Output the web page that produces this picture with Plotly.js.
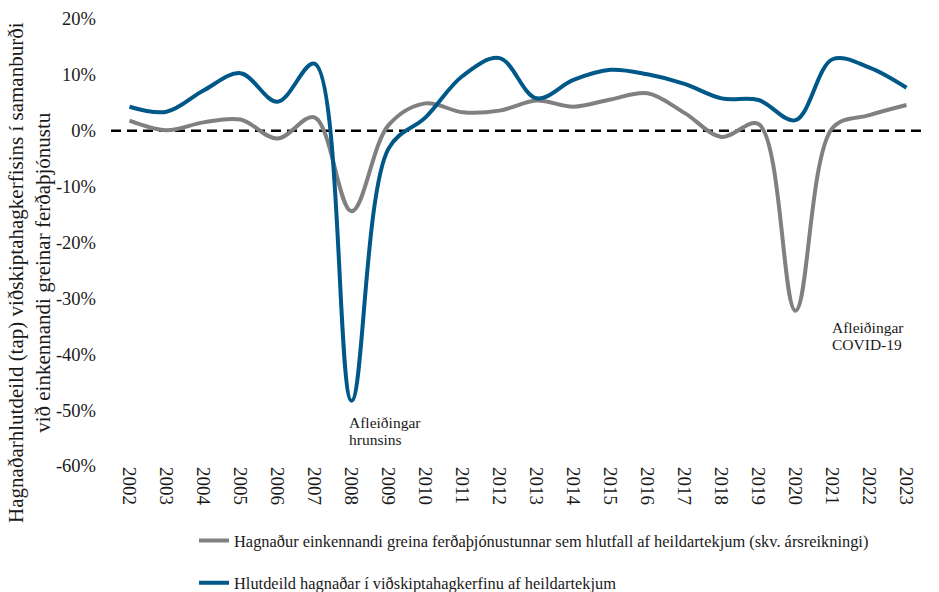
<!DOCTYPE html>
<html>
<head>
<meta charset="utf-8">
<script src="https://cdn.plot.ly/plotly-3.0.1.min.js"></script>
<style>
  body { margin: 0; background: #fff; }
  #chart { width: 939px; height: 592px; }
</style>
</head>
<body>
<div id="chart"></div>
<script>
// years on the category axis
var years = ['2002', '2003', '2004', '2005', '2006', '2007', '2008', '2009', '2010', '2011', '2012',
             '2013', '2014', '2015', '2016', '2017', '2018', '2019', '2020', '2021', '2022', '2023'];

// Hagnaður einkennandi greina ferðaþjónustunnar (%)
var tourismProfit = [1.8, 0.1, 1.5, 2.0, -1.4, 2.4, -14.4, 1.0, 4.9, 3.3, 3.6,
                     5.4, 4.3, 5.6, 6.7, 3.2, -1.1, 1.2, -32.2, 0.5, 2.8, 4.6];

// Hlutdeild hagnaðar í viðskiptahagkerfinu (%)
var economyProfit = [4.3, 3.4, 7.2, 10.3, 5.2, 12.0, -48.3, -3.2, 2.4, 9.8, 13.0,
                     5.8, 9.1, 10.9, 10.1, 8.4, 5.8, 5.5, 1.9, 12.8, 11.3, 7.7];

// y ticks (plain hyphen like the original)
var yTickVals = [20, 10, 0, -10, -20, -30, -40, -50, -60];
var yTickText = ['20%', '10%', '0%', '-10%', '-20%', '-30%', '-40%', '-50%', '-60%'];

var tourismName = 'Hagnaður einkennandi greina ferðaþjónustunnar sem hlutfall af heildartekjum (skv. ársreikningi)';
var economyName = 'Hlutdeild hagnaðar í viðskiptahagkerfinu af heildartekjum';

var serif = 'Liberation Serif, Times New Roman, serif';
var ink = '#1a1a1a';

var gray = {
    x: years,
    y: tourismProfit,
    name: tourismName,
    legendgroup: 'a',
    type: 'scatter',
    mode: 'lines',
    line: {color: '#808080', width: 4, shape: 'spline', smoothing: 1},
    hoverinfo: 'skip'
};

var blue = {
    x: years,
    y: economyProfit,
    name: economyName,
    legendgroup: 'b',
    type: 'scatter',
    mode: 'lines',
    line: {color: '#005888', width: 4, shape: 'spline', smoothing: 1},
    hoverinfo: 'skip'
};

function note(x, y, txt) {
    return {xref: 'x', yref: 'y', x: x, y: y, xanchor: 'left', yanchor: 'middle',
            showarrow: false, borderpad: 0, text: txt,
            font: {family: serif, size: 15.5, color: ink}};
}

var layout = {
    width: 939,
    height: 592,
    margin: {l: 111, r: 14, t: 19, b: 126, autoexpand: false},
    paper_bgcolor: '#fff',
    plot_bgcolor: '#fff',
    font: {family: serif, color: ink},
    showlegend: true,
    legend: {
        x: 0.102, xanchor: 'left',
        y: -0.128, yanchor: 'top',
        traceorder: 'grouped',
        tracegroupgap: 18,
        itemwidth: 30,
        font: {family: serif, size: 16.4, color: ink},
        bgcolor: 'rgba(0,0,0,0)'
    },
    xaxis: {
        type: 'category',
        range: [-0.5, 21.5],
        tickangle: 90,
        tickfont: {family: serif, size: 19, color: ink},
        showgrid: false,
        showline: false,
        zeroline: false,
        ticks: '',
        automargin: false
    },
    yaxis: {
        range: [-60, 20],
        tickmode: 'array',
        tickvals: yTickVals,
        ticktext: yTickText,
        tickfont: {family: serif, size: 18.5, color: ink},
        showgrid: false,
        showline: false,
        zeroline: false,
        ticks: '',
        ticklabelstandoff: 14,
        automargin: false
    },
    shapes: [{
        type: 'line', xref: 'paper', yref: 'y',
        x0: 0, x1: 1, y0: 0, y1: 0,
        line: {color: '#000', width: 2.5, dash: '10px,6px'},
        layer: 'below'
    }],
    annotations: [
        {
            xref: 'paper', yref: 'paper',
            x: -0.0995, y: 0.432,
            xanchor: 'center', yanchor: 'middle',
            textangle: -90,
            showarrow: false,
            align: 'center',
            text: 'Hagnaðarhlutdeild (tap) viðskiptahagkerfisins í samanburði<br>við einkennandi greinar ferðaþjónustu',
            font: {family: serif, size: 21, color: ink}
        },
        note(5.9, -52.2, 'Afleiðingar'),
        note(5.9, -55.2, 'hrunsins'),
        note(18.95, -35.2, 'Afleiðingar'),
        note(18.95, -38.2, 'COVID-19')
    ]
};

Plotly.newPlot('chart', [gray, blue], layout, {staticPlot: true});
</script>
</body>
</html>
